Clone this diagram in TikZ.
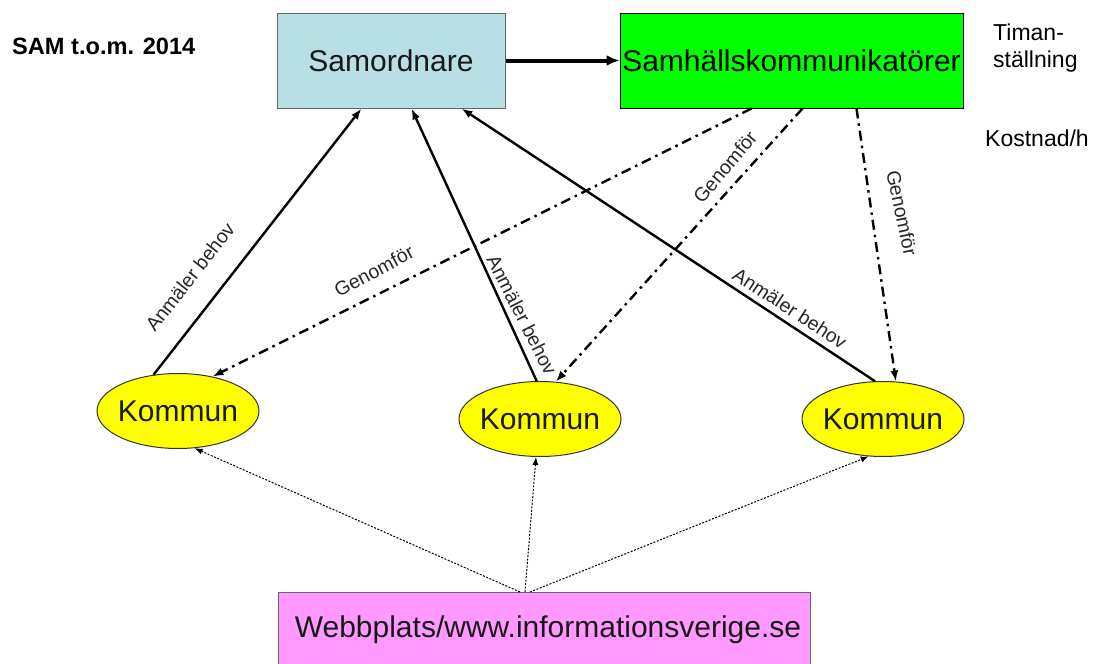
\documentclass[tikz,border=0pt]{standalone}
\usepackage{fontspec}
\setmainfont{Liberation Sans}
\usetikzlibrary{shapes.geometric,arrows.meta}
\definecolor{samblue}{RGB}{184,224,228}
\definecolor{kgreen}{RGB}{0,255,0}
\definecolor{kyellow}{RGB}{255,255,0}
\definecolor{wpink}{RGB}{255,153,255}
\definecolor{txt}{RGB}{25,25,25}
\begin{document}
\begin{tikzpicture}[x=1pt,y=-1pt,
  bigfont/.style={font=\fontsize{30}{34}\selectfont},
  smallfont/.style={font=\fontsize{19.5}{22}\selectfont},
  sidefont/.style={font=\fontsize{23}{27}\selectfont},
  boxnode/.style={rectangle,draw=gray!80!black,line width=1pt,inner sep=0pt,bigfont,text=txt},
  kommun/.style={ellipse,draw=black!80,line width=1pt,fill=kyellow,minimum width=162pt,minimum height=75pt,inner sep=0pt,bigfont,text=txt},
  anm/.style={line width=2.4pt,-{Latex[length=11pt,width=8pt]}},
  gen/.style={line width=2.4pt,dash pattern=on 10pt off 5pt on 2.5pt off 5pt,-{Latex[length=11pt,width=8pt]}},
  web/.style={line width=1pt,dash pattern=on 2pt off 1.5pt,-{Latex[length=8pt,width=6pt]}},
  lbl/.style={smallfont,text=black!85,inner sep=0pt}
]
\useasboundingbox (0,0) rectangle (1096,664);

% boxes
\node[boxnode,fill=samblue,minimum width=228pt,minimum height=95pt] (sam) at (391,60.5) {Samordnare};
\node[boxnode,draw=black,fill=kgreen,minimum width=343pt,minimum height=95pt,text=black] (sk) at (791.5,60.5) {Samhällskommunikatörer};
\node[boxnode,fill=wpink,minimum width=532pt,minimum height=76pt,anchor=north west] (wp) at (278,592) {};
\node[bigfont,text=txt,inner sep=0pt] (wptext) at (548,630) {Webbplats/www.informationsverige.se};

% kommun ellipses
\node[kommun] (k1) at (178,411) {\makebox[0pt]{Kommun}};
\node[kommun] (k2) at (540,419) {\makebox[0pt]{Kommun}};
\node[kommun] (k3) at (883,419) {\makebox[0pt]{Kommun}};

% side texts
\node[font=\fontsize{23.6}{28}\selectfont\bfseries,anchor=west,inner sep=0pt] (sam14) at (12,46) {SAM t.o.m. 2014};
\node[sidefont,anchor=north west,align=left,inner sep=0pt] (tim) at (993,24) {Timan-\\ställning};
\node[sidefont,anchor=west,inner sep=0pt] (kost) at (985,138) {Kostnad/h};

% main arrow
\draw[line width=4pt,-{Latex[length=13pt,width=11pt]}] (sam.east) -- (sk.west);

% Anmäler behov
\draw[anm] (k1.124) -- ([xshift=85pt]sam.south west);
\draw[anm] (k2.95) -- ([xshift=135pt]sam.south west);
\draw[anm] (k3.102) -- ([xshift=185pt]sam.south west);

% Genomför
\draw[gen] ([xshift=132pt]sk.south west) -- (k1.45);
\draw[gen] ([xshift=183pt]sk.south west) -- (k2.67);
\draw[gen] ([xshift=237pt]sk.south west) -- (k3.71);

% web links
\draw[web] ([xshift=242pt]wp.north west) -- (k1.294);
\draw[web] ([xshift=247pt]wp.north west) -- (k2.264);
\draw[web] ([xshift=252pt]wp.north west) -- (k3.249);

% labels
\node[lbl,rotate=52] (la1) at (190,277) {Anmäler behov};
\node[lbl,rotate=-63] (la2) at (522,315) {Anmäler behov};
\node[lbl,rotate=-33] (la3) at (790,308) {Anmäler behov};
\node[lbl,rotate=28] (lg1) at (374,271) {Genomför};
\node[lbl,rotate=50] (lg2) at (725,167) {Genomför};
\node[lbl,rotate=-78] (lg3) at (902,213) {Genomför};
\end{tikzpicture}
\end{document}
